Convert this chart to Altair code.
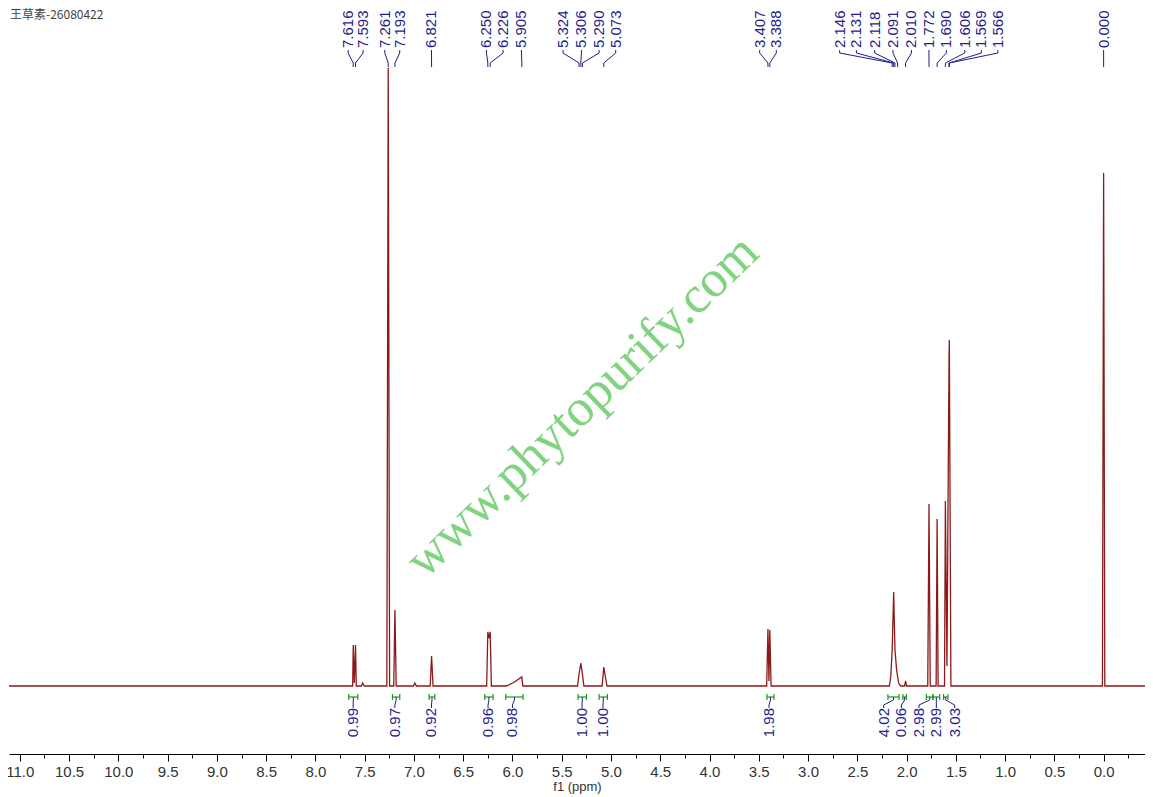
import altair as alt
import pandas as pd

# ---------------- data ----------------
title_text = "王草素-26080422"
watermark = "www.phytopurify.com"

# spectrum trace (ppm, intensity)
trace_ppm = [11.11, 7.64, 7.622, 7.616, 7.605, 7.593, 7.585, 7.535, 7.52, 7.505,
             7.275, 7.261, 7.247, 7.205, 7.193, 7.18, 7.005, 6.99, 6.975,
             6.835, 6.821, 6.806, 6.262, 6.250, 6.238, 6.226, 6.214,
             6.06, 5.98, 5.905, 5.895, 5.34, 5.324, 5.306, 5.290, 5.275,
             5.09, 5.073, 5.055, 5.04, 3.42, 3.407, 3.397, 3.388, 3.375,
             2.175, 2.16, 2.146, 2.131, 2.118, 2.10, 2.08, 2.06, 2.02, 2.01, 2.00,
             1.785, 1.772, 1.76, 1.70, 1.690, 1.68, 1.615, 1.606, 1.59, 1.569, 1.566, 1.55,
             0.012, 0.0, -0.012, -0.42]
trace_int = [0, 0, 0, 41, 3, 41, 0, 0, 3, 0,
             0, 618, 0, 0, 76, 0, 0, 3, 0,
             0, 30, 0, 0, 54, 48, 54, 0,
             0, 4, 9, 0, 0, 12, 23, 12, 0,
             0, 19, 8, 0, 0, 57, 5, 56, 0,
             0, 10, 36, 94, 36, 15, 3, 0, 0, 5, 0,
             0, 182, 0, 0, 167, 0, 0, 185, 20, 330, 346, 0,
             0, 513, 0, 0]

# peak labels: value, label position (ppm)
peak_vals = [7.616, 7.593, 7.261, 7.193, 6.821, 6.250, 6.226, 5.905, 5.324, 5.306,
             5.290, 5.073, 3.407, 3.388, 2.146, 2.131, 2.118, 2.091, 2.010, 1.772,
             1.690, 1.606, 1.569, 1.566, 0.000]
label_pos = [7.668, 7.516, 7.296, 7.144, 6.822, 6.264, 6.095, 5.909, 5.487, 5.300,
             5.121, 4.952, 3.491, 3.322, 2.679, 2.509, 2.324, 2.138, 1.951, 1.773,
             1.596, 1.410, 1.241, 1.073, 0.000]

# integrations: start, end (ppm), value, label position (ppm)
int_start = [7.661, 7.218, 6.846, 6.281, 6.068, 5.334, 5.121, 3.417, 2.189, 2.037, 1.799, 1.732, 1.624]
int_end = [7.570, 7.144, 6.788, 6.197, 5.892, 5.249, 5.036, 3.346, 2.077, 2.002, 1.732, 1.664, 1.580]
int_vals = ["0.99", "0.97", "0.92", "0.96", "0.98", "1.00", "1.00", "1.98", "4.02", "0.06", "2.98", "2.99", "3.03"]
int_label_pos = [7.617, 7.194, 6.822, 6.248, 6.000, 5.294, 5.081, 3.396, 2.232, 2.053, 1.874, 1.698, 1.512]

tick_values = [round(11.0 - 0.25 * i, 2) for i in range(46)]

# ---------------- tables ----------------
spec = pd.DataFrame({"ppm": trace_ppm, "inten": trace_int, "o": range(len(trace_ppm))})

peaks = pd.DataFrame({"val": peak_vals, "pos": label_pos,
                      "txt": [f"{v:.3f}" for v in peak_vals]})
peaks["ytxt"] = 638

conn_rows = []
for i, (v, p) in enumerate(zip(peak_vals, label_pos)):
    for k, (xx, yy) in enumerate([(p, 636), (p, 633), (v, 623), (v, 619)]):
        conn_rows.append({"g": i, "o": k, "x": xx, "y": yy})
conn = pd.DataFrame(conn_rows)

ints = pd.DataFrame({"s": int_start, "e": int_end, "txt": int_vals, "pos": int_label_pos})
ints["mid"] = (ints["s"] + ints["e"]) / 2
ints["yb"] = -11
ints["yt1"] = -8
ints["yt2"] = -14
ints["ytxt"] = -22

iconn_rows = []
for i, r in ints.iterrows():
    for k, (xx, yy) in enumerate([(r["mid"], -11), (r["mid"], -14), (r["pos"], -19), (r["pos"], -22)]):
        iconn_rows.append({"g": i, "o": k, "x": xx, "y": yy})
iconn = pd.DataFrame(iconn_rows)

ticks = pd.concat([
    pd.DataFrame({"x": ints["s"], "y1": ints["yt1"], "y2": ints["yt2"]}),
    pd.DataFrame({"x": ints["e"], "y1": ints["yt1"], "y2": ints["yt2"]}),
])

# ---------------- scales / axis ----------------
xscale = alt.Scale(domain=[-0.42, 11.11], reverse=True, nice=False, zero=False)
yscale = alt.Scale(domain=[-68, 678], nice=False, zero=False)
major = "abs(datum.value*2 - round(datum.value*2)) < 0.001"
xaxis = alt.Axis(
    values=tick_values,
    labelExpr=f"{major} ? format(datum.value, '.1f') : ''",
    tickSize={"condition": {"test": major, "value": 7}, "value": 4},
    grid=False, domainColor="black", domainWidth=1, tickColor="black", tickWidth=1,
    labelFont="Liberation Sans", labelFontSize=15, labelColor="#333333", labelPadding=3,
    labelFlush=False, labelOverlap=False,
    title="f1 (ppm)", titleFont="Liberation Sans", titleFontSize=13,
    titleFontWeight="normal", titleColor="#333333", titlePadding=1,
)


def X(field):
    return alt.X(field, type="quantitative", scale=xscale, axis=xaxis)


def Y(field):
    return alt.Y(field, type="quantitative", scale=yscale, axis=None)


LBL = "#1e1e8c"
GRN = "#1a9a1a"

spectrum = alt.Chart(spec).mark_line(color="#8b1a1a", strokeWidth=1.3).encode(
    x=X("ppm"), y=Y("inten"), order="o:Q")

conn_lines = alt.Chart(conn).mark_line(color=LBL, strokeWidth=1).encode(
    x=X("x"), y=Y("y"), detail="g:N", order="o:Q")

peak_text = alt.Chart(peaks).mark_text(
    angle=270, align="left", baseline="middle", font="Liberation Sans",
    fontSize=15, color=LBL).encode(x=X("pos"), y=Y("ytxt"), text="txt:N")

brackets = alt.Chart(ints).mark_rule(color=GRN, strokeWidth=1.2).encode(
    x=X("s"), x2="e", y=Y("yb"))

bracket_ticks = alt.Chart(ticks).mark_rule(color=GRN, strokeWidth=1.2).encode(
    x=X("x"), y=Y("y1"), y2="y2")

iconn_lines = alt.Chart(iconn).mark_line(color=LBL, strokeWidth=1).encode(
    x=X("x"), y=Y("y"), detail="g:N", order="o:Q")

int_text = alt.Chart(ints).mark_text(
    angle=270, align="right", baseline="middle", font="Liberation Sans",
    fontSize=15, color=LBL).encode(x=X("pos"), y=Y("ytxt"), text="txt:N")

wm = alt.Chart(pd.DataFrame({"t": [watermark]})).mark_text(
    angle=316, align="center", baseline="middle", font="Liberation Serif",
    fontSize=52, color="#80d480").encode(
    x=alt.value(573), y=alt.value(398), text="t:N")

chart = alt.layer(
    wm, spectrum, conn_lines, peak_text, brackets, bracket_ticks, iconn_lines, int_text
).properties(
    width=1136, height=746,
    autosize=alt.AutoSizeParams(type="none"),
    padding={"left": 1, "top": 0, "right": 0, "bottom": 42},
    title=alt.TitleParams(title_text, anchor="start", orient="top", offset=-14,
                          font="Noto Sans CJK SC", fontSize=12, fontWeight="normal",
                          color="#444444", frame="group", dx=1),
).configure_view(stroke=None)

chart.save("out.html", embed_options={"renderer": "svg", "actions": False})
